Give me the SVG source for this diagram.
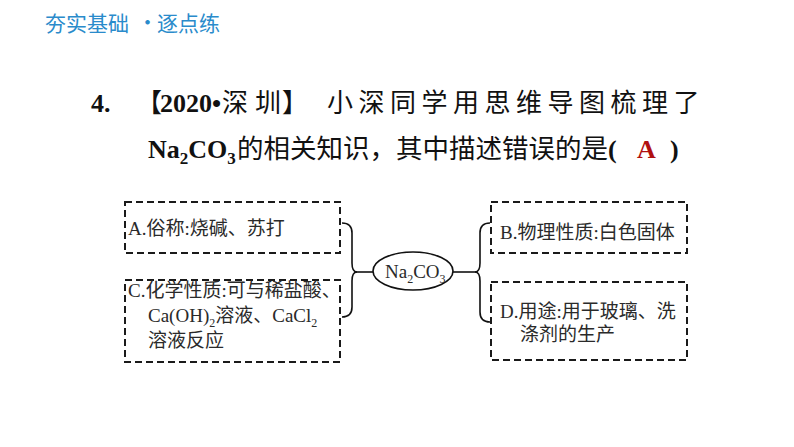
<svg xmlns="http://www.w3.org/2000/svg" width="794" height="447" viewBox="0 0 794 447">
<style>
.hdr{font-family:"Noto Sans CJK SC","Noto Sans",sans-serif;font-size:21px;fill:#2a8bcb}
.t{font-family:"Liberation Serif","Noto Sans CJK SC",serif;font-size:26px;fill:#111}
.lat{font-family:"Liberation Serif",serif;font-weight:bold}
.cjk{font-family:"Noto Sans CJK SC",sans-serif;font-weight:normal}
.bx{fill:none;stroke:#1a1a1a;stroke-width:2;stroke-dasharray:7 4}
.lb{font-family:"Liberation Serif","Noto Sans CJK SC",serif;font-size:19px;fill:#2a2a2a}
.ln{fill:none;stroke:#111;stroke-width:1.6}
</style>
<rect width="794" height="447" fill="#fff"/>
<text class="hdr" x="45" y="31">夯实基础</text>
<text class="hdr" x="137" y="30">•</text>
<text class="hdr" x="157" y="31">逐点练</text>

<text class="t" y="112"><tspan class="lat" x="91">4.</tspan><tspan class="cjk" x="136">【</tspan><tspan class="lat" x="160">2020•</tspan><tspan class="cjk" x="222">深</tspan><tspan class="cjk" x="255">圳</tspan><tspan class="cjk" x="282">】</tspan><tspan class="cjk" x="327" letter-spacing="5.5">小深同学用思维导图梳理了</tspan></text>
<text class="t" y="158"><tspan class="lat" x="148">Na</tspan><tspan class="lat" font-size="17" dy="6">2</tspan><tspan class="lat" dy="-6">CO</tspan><tspan class="lat" font-size="17" dy="6">3</tspan><tspan class="cjk" x="237" dy="-6" font-size="26.5">的相关知识，其中描述错误的是</tspan><tspan class="lat">(</tspan><tspan class="lat" x="637" fill="#b01010">A</tspan><tspan class="lat" x="670">)</tspan></text>

<g id="connectors">
<path class="ln" d="M342,223 Q352,223 352,233 L352,263 Q352,272 357,272 Q352,272 352,281 L352,307 Q352,317 342,317"/>
<path class="ln" d="M356,272 H373"/>
<path class="ln" d="M490,223 Q480,223 480,233 L480,263 Q480,272 475,272 Q480,272 480,281 L480,312 Q480,322 490,322"/>
<path class="ln" d="M453,272 H476"/>
</g>

<g id="center">
<ellipse class="ln" cx="413" cy="271" rx="40" ry="19" fill="#fff"/>
<text class="lb" x="385" y="278" font-size="18">Na<tspan font-size="12" dy="5">2</tspan><tspan dy="-5">CO</tspan><tspan font-size="12" dy="5">3</tspan></text>
</g>

<g id="nodeA">
<rect class="bx" x="125" y="202" width="215" height="51"/>
<text class="lb" x="128" y="235">A.俗称:烧碱、苏打</text>
</g>
<g id="nodeC">
<rect class="bx" x="125" y="280" width="215" height="82"/>
<text class="lb" x="128" y="297">C.化学性质:可与稀盐酸、</text>
<text class="lb" x="148" y="322">Ca(OH)<tspan font-size="12" dy="5">2</tspan><tspan dy="-5">溶液、CaCl</tspan><tspan font-size="12" dy="5">2</tspan></text>
<text class="lb" x="148" y="347">溶液反应</text>
</g>
<g id="nodeB">
<rect class="bx" x="491" y="202" width="196" height="51"/>
<text class="lb" x="500" y="239">B.物理性质:白色固体</text>
</g>
<g id="nodeD">
<rect class="bx" x="491" y="282" width="196" height="78"/>
<text class="lb" x="500" y="318">D.用途:用于玻璃、洗</text>
<text class="lb" x="520" y="341">涤剂的生产</text>
</g>
</svg>
